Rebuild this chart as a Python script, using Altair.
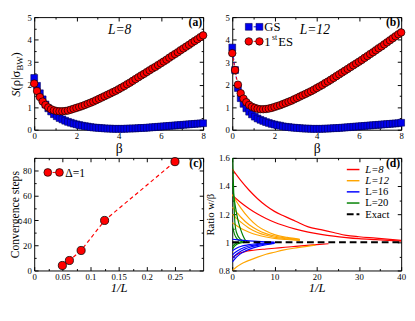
import altair as alt
import pandas as pd

FONT = "Liberation Serif"
W, H = 174, 116

# ---------------- panel (a)/(b) data ----------------
beta = [0.0, 0.133, 0.267, 0.4, 0.533, 0.667, 0.8, 0.933, 1.067, 1.2,
        1.333, 1.467, 1.6, 1.733, 1.867, 2.0, 2.133, 2.267, 2.4, 2.533,
        2.667, 2.8, 2.933, 3.067, 3.2, 3.333, 3.467, 3.6, 3.733, 3.867,
        4.0, 4.133, 4.267, 4.4, 4.533, 4.667, 4.8, 4.933, 5.067, 5.2,
        5.333, 5.467, 5.6, 5.733, 5.867, 6.0, 6.133, 6.267, 6.4, 6.533,
        6.667, 6.8, 6.933, 7.067, 7.2, 7.333, 7.467, 7.6, 7.733, 7.867, 8.0]

es_L8 = [2.05, 1.72, 1.45, 1.25, 1.10, 0.99, 0.91, 0.86, 0.83, 0.82,
         0.82, 0.83, 0.85, 0.89, 0.93, 0.97, 1.01, 1.05, 1.10, 1.15,
         1.20, 1.25, 1.31, 1.37, 1.43, 1.49, 1.55, 1.61, 1.67, 1.73,
         1.80, 1.87, 1.94, 2.02, 2.09, 2.17, 2.25, 2.33, 2.41, 2.48,
         2.56, 2.64, 2.72, 2.79, 2.87, 2.95, 3.03, 3.11, 3.20, 3.28,
         3.36, 3.44, 3.53, 3.61, 3.69, 3.77, 3.86, 3.94, 4.02, 4.11, 4.19]
gs_L8 = [2.30, 1.95, 1.62, 1.35, 1.12, 0.95, 0.81, 0.69, 0.60, 0.52,
         0.46, 0.40, 0.35, 0.31, 0.27, 0.24, 0.21, 0.18, 0.16, 0.14,
         0.12, 0.10, 0.09, 0.08, 0.07, 0.06, 0.05, 0.05, 0.04, 0.04,
         0.04, 0.04, 0.04, 0.05, 0.05, 0.06, 0.06, 0.07, 0.08, 0.08,
         0.09, 0.10, 0.11, 0.12, 0.13, 0.14, 0.15, 0.16, 0.17, 0.18,
         0.19, 0.20, 0.21, 0.22, 0.23, 0.24, 0.25, 0.26, 0.27, 0.28, 0.29]
es_L12 = [3.40, 2.65, 2.00, 1.62, 1.38, 1.22, 1.10, 1.02, 0.97, 0.93,
          0.91, 0.91, 0.92, 0.94, 0.97, 1.01, 1.05, 1.09, 1.14, 1.19,
          1.24, 1.29, 1.35, 1.41, 1.47, 1.53, 1.59, 1.65, 1.71, 1.78,
          1.85, 1.92, 1.99, 2.07, 2.14, 2.22, 2.30, 2.38, 2.46, 2.54,
          2.62, 2.70, 2.78, 2.86, 2.94, 3.02, 3.10, 3.19, 3.27, 3.36,
          3.44, 3.53, 3.62, 3.70, 3.79, 3.88, 3.97, 4.06, 4.15, 4.24, 4.32]
gs_L12 = [3.65, 2.65, 1.85, 1.40, 1.15, 0.95, 0.80, 0.68, 0.58, 0.50,
          0.44, 0.39, 0.34, 0.30, 0.26, 0.23, 0.20, 0.18, 0.15, 0.13,
          0.12, 0.10, 0.09, 0.08, 0.07, 0.06, 0.05, 0.05, 0.04, 0.04,
          0.04, 0.04, 0.04, 0.05, 0.05, 0.06, 0.07, 0.07, 0.08, 0.09,
          0.10, 0.11, 0.12, 0.13, 0.14, 0.15, 0.16, 0.17, 0.18, 0.19,
          0.20, 0.21, 0.22, 0.23, 0.24, 0.25, 0.26, 0.27, 0.28, 0.29, 0.31]

# ---------------- panel (c) data ----------------
inv_L = [0.05, 0.0625, 0.0833, 0.125, 0.25]
conv_steps = [4, 8, 16, 40, 87]

# ---------------- panel (d) data ----------------
red_1_x = [0, 2, 4, 6, 8, 10, 12, 15, 18, 21, 24, 27, 30, 34, 40]
red_1_y = [1.52, 1.44, 1.37, 1.31, 1.26, 1.22, 1.19, 1.15, 1.11, 1.09, 1.07, 1.05, 1.04, 1.03, 1.014]
red_2_x = [0, 2, 4, 6, 8, 10, 12, 15, 18, 21, 24, 27, 30, 34, 40]
red_2_y = [1.335, 1.283, 1.239, 1.201, 1.170, 1.143, 1.121, 1.094, 1.073, 1.057, 1.044, 1.034, 1.026, 1.019, 1.009]
red_3_x = [0, 1, 2, 3, 5, 8, 11, 14, 17, 20, 22.8]
red_3_y = [0.89, 0.912, 0.925, 0.934, 0.944, 0.953, 0.961, 0.969, 0.977, 0.984, 0.99]

orange_x = [0, 1, 2, 4, 6, 8, 10, 13, 16]
orange_1_y = [1.34, 1.29, 1.245, 1.17, 1.115, 1.08, 1.055, 1.035, 1.022]
orange_2_y = [1.25, 1.215, 1.18, 1.125, 1.088, 1.062, 1.045, 1.03, 1.02]
orange_3_y = [1.20, 1.17, 1.145, 1.10, 1.07, 1.05, 1.036, 1.025, 1.017]
orange_4_y = [1.14, 1.12, 1.10, 1.072, 1.052, 1.038, 1.028, 1.02, 1.014]
orange_5_x = [0, 1, 2, 4, 6, 8, 10, 12, 15.5, 19.7]
orange_5_y = [0.80, 0.825, 0.845, 0.872, 0.895, 0.915, 0.93, 0.945, 0.962, 0.98]

blue_0_x = [0, 2, 4, 6, 8, 10]
blue_0_y = [1.022, 1.016, 1.011, 1.007, 1.004, 1.002]
blue_x = [0, 1, 2, 3, 4, 6, 8, 10]
blue_1_y = [0.86, 0.895, 0.92, 0.937, 0.95, 0.97, 0.983, 0.992]
blue_2_y = [0.885, 0.915, 0.937, 0.952, 0.963, 0.978, 0.988, 0.995]
blue_3_y = [0.91, 0.935, 0.953, 0.965, 0.974, 0.985, 0.992, 0.997]
blue_4_y = [0.94, 0.958, 0.97, 0.978, 0.984, 0.991, 0.996, 0.998]

green_1_x = [0, 0.2, 0.4, 0.6, 1, 2, 3]
green_1_y = [1.70, 1.50, 1.30, 1.15, 1.07, 1.02, 1.005]
green_2_x = [0, 0.5, 1, 1.5, 2, 2.5, 3, 3.5]
green_2_y = [1.42, 1.30, 1.21, 1.14, 1.09, 1.05, 1.02, 1.005]
green_3_x = [0, 0.5, 1, 2, 3]
green_3_y = [1.12, 1.06, 1.03, 1.008, 1.0]
green_4_x = [0, 0.5, 1, 2, 3]
green_4_y = [0.95, 0.972, 0.985, 0.996, 1.0]
green_5_x = [0, 0.5, 1, 2]
green_5_y = [0.97, 0.985, 0.993, 0.999]

exact_x = [0, 40]
exact_y = [1, 1]

ONE = pd.DataFrame({"k": [0]})


def sc(dom):
    return alt.Scale(domain=dom, nice=False, zero=False)


def frame_axes(xdom, ydom, xmaj, xmin, ymaj, ymin, xtitle, ytitle, xfmt, yfmt,
               xtitle_style="normal", xtitle_size=13, ytitle_size=12, ytitle_pad=1,
               xlab_vals=None):
    dummy = pd.DataFrame({"x": [xdom[0]], "y": [ydom[0]]})
    specs = [("bottom", "left", xlab_vals or xmaj, ymaj, True, "-4"),
             ("top", "right", xmaj, ymaj, False, "-4"),
             ("bottom", "left", xmin, ymin, False, "-2"),
             ("top", "right", xmin, ymin, False, "-2")]
    layers = []
    for xo, yo, xv, yv, lab, ts in specs:
        common = dict(labels=lab, tickSize=alt.ExprRef(expr=ts), labelFont=FONT,
                      labelFontSize=9, titleFont=FONT, tickColor="black")
        xa = dict(orient=xo, values=xv, **common)
        ya = dict(orient=yo, values=yv, **common)
        if lab:
            xa.update(format=xfmt, labelPadding=6, title=xtitle, titleFontStyle=xtitle_style,
                      titleFontSize=xtitle_size, titlePadding=1)
            ya.update(format=yfmt, labelPadding=7)
            if ytitle is not None:
                ya.update(title=ytitle, titleFontSize=ytitle_size, titlePadding=ytitle_pad)
            else:
                ya.update(title=None)
        else:
            xa.update(title=None)
            ya.update(title=None)
        layers.append(
            alt.Chart(dummy).mark_point(opacity=0).encode(
                x=alt.X("x:Q", scale=sc(xdom), axis=alt.Axis(**xa)),
                y=alt.Y("y:Q", scale=sc(ydom), axis=alt.Axis(**ya)),
            )
        )
    return layers


def txt(s, x, y, size=12, style="normal", weight="normal", align="left",
        angle=0, baseline="middle"):
    return alt.Chart(ONE).mark_text(
        text=s, font=FONT, fontSize=size, fontStyle=style, fontWeight=weight,
        align=align, baseline=baseline, angle=angle, color="black"
    ).encode(x=alt.value(x), y=alt.value(y))


def lg_rule(x1, x2, y, color, dash, width=1.0):
    return alt.Chart(ONE).mark_rule(color=color, strokeDash=dash, strokeWidth=width).encode(
        x=alt.value(x1), x2=alt.value(x2), y=alt.value(y))


def lg_square(x, y):
    return alt.Chart(ONE).mark_square(size=49, color="#0000ee", stroke="#00005a",
                                      strokeWidth=0.6, opacity=1).encode(
        x=alt.value(x), y=alt.value(y))


def lg_circle(x, y, size=60):
    return alt.Chart(ONE).mark_circle(size=size, color="#ff0000", stroke="black",
                                      strokeWidth=0.7, opacity=1).encode(
        x=alt.value(x), y=alt.value(y))


def beta_panel(gs, es):
    df = pd.DataFrame({"beta": beta, "gs": gs, "es": es})
    sx, sy = sc([0, 8]), sc([0, 5])
    x = alt.X("beta:Q", scale=sx, axis=None)
    gl = alt.Chart(df).mark_line(color="#0000ee", strokeDash=[3, 2], strokeWidth=1).encode(
        x=x, y=alt.Y("gs:Q", scale=sy, axis=None))
    gp = alt.Chart(df).mark_square(size=49, color="#0000ee", stroke="#00005a",
                                   strokeWidth=0.6, opacity=1).encode(
        x=x, y=alt.Y("gs:Q", scale=sy, axis=None))
    el = alt.Chart(df).mark_line(color="#ff0000", strokeDash=[3, 2], strokeWidth=1).encode(
        x=x, y=alt.Y("es:Q", scale=sy, axis=None))
    ep = alt.Chart(df).mark_circle(size=60, color="#ff0000", stroke="black",
                                   strokeWidth=0.7, opacity=1).encode(
        x=x, y=alt.Y("es:Q", scale=sy, axis=None))
    return [gl, gp, el, ep]


# ---------------- panel (a) ----------------
ax_a = frame_axes([0, 8], [0, 5], [0, 2, 4, 6, 8], [1, 3, 5, 7],
                  [0, 1, 2, 3, 4, 5], [0.5, 1.5, 2.5, 3.5, 4.5],
                  "β", None, "d", "d", xtitle_size=14)
ytitle_a = [
    txt("S", -15, 82, size=13, style="italic", angle=270, baseline="alphabetic"),
    txt("(ρ|σ", -15, 75.5, size=13, angle=270, baseline="alphabetic"),
    txt("BW", -12, 55, size=9, angle=270, baseline="alphabetic"),
    txt(")", -15, 40.5, size=13, angle=270, baseline="alphabetic"),
]
panel_a = alt.layer(
    *ax_a, *beta_panel(gs_L8, es_L8), *ytitle_a,
    txt("L=8", 88, 13, size=14, style="italic", align="center"),
    txt("(a)", 173, 5, size=12, weight="bold", align="right"),
).resolve_axis(x="independent", y="independent").properties(width=W, height=H)

# ---------------- panel (b) ----------------
ax_b = frame_axes([0, 8], [0, 5], [0, 2, 4, 6, 8], [1, 3, 5, 7],
                  [0, 1, 2, 3, 4, 5], [0.5, 1.5, 2.5, 3.5, 4.5],
                  "β", None, "d", "d", xtitle_size=14)
legend_b = [
    lg_rule(17, 28, 10, "#0000ee", [3, 2]), lg_square(17, 10), lg_square(28, 10),
    txt("GS", 33, 10, size=13),
    lg_rule(17, 28, 25, "#ff0000", [3, 2]), lg_circle(17, 25), lg_circle(28, 25),
    txt("1", 33, 26, size=13), txt("st", 41, 21.5, size=8), txt("ES", 47.5, 26, size=13),
]
panel_b = alt.layer(
    *ax_b, *beta_panel(gs_L12, es_L12), *legend_b,
    txt("L=12", 85, 13, size=14, style="italic", align="center"),
    txt("(b)", 173, 5, size=12, weight="bold", align="right"),
).resolve_axis(x="independent", y="independent").properties(width=W, height=H)

# ---------------- panel (c) ----------------
ax_c = frame_axes([0, 0.3], [0, 90], [0, 0.05, 0.1, 0.15, 0.2, 0.25, 0.3],
                  [0.025, 0.075, 0.125, 0.175, 0.225, 0.275],
                  [0, 20, 40, 60, 80], [10, 30, 50, 70, 90],
                  "1/L", "Convergence steps", "~g", "d",
                  xtitle_style="italic", xtitle_size=13, ytitle_size=12, ytitle_pad=1,
                  xlab_vals=[0, 0.05, 0.1, 0.15, 0.2, 0.25])
df_c = pd.DataFrame({"invL": inv_L, "steps": conv_steps})
xc = alt.X("invL:Q", scale=sc([0, 0.3]), axis=None)
yc = alt.Y("steps:Q", scale=sc([0, 90]), axis=None)
c_line = alt.Chart(df_c).mark_line(color="#ff0000", strokeDash=[4, 3], strokeWidth=1.2).encode(x=xc, y=yc)
c_pts = alt.Chart(df_c).mark_circle(size=70, color="#ff0000", stroke="black",
                                    strokeWidth=0.8, opacity=1).encode(x=xc, y=yc)
legend_c = [lg_rule(14, 26, 15, "#ff0000", [3, 2]), lg_circle(14, 15, 64), lg_circle(26, 15, 64),
            txt("Δ=1", 32, 15.5, size=12)]
panel_c = alt.layer(
    *ax_c, c_line, c_pts, *legend_c,
    txt("(c)", 173, 5, size=12, weight="bold", align="right"),
).resolve_axis(x="independent", y="independent").properties(width=W, height=H)

# ---------------- panel (d) ----------------
ax_d = frame_axes([0, 40], [0.8, 1.6], [0, 10, 20, 30, 40], [5, 15, 25, 35],
                  [0.8, 1.0, 1.2, 1.4, 1.6], [0.9, 1.1, 1.3, 1.5],
                  "1/L", "Ratio w/β", "d", "~g",
                  xtitle_style="italic", xtitle_size=13, ytitle_size=11, ytitle_pad=3)

curves = [
    ("L8", "r1", red_1_x, red_1_y), ("L8", "r2", red_2_x, red_2_y), ("L8", "r3", red_3_x, red_3_y),
    ("L12", "o1", orange_x, orange_1_y), ("L12", "o2", orange_x, orange_2_y),
    ("L12", "o3", orange_x, orange_3_y), ("L12", "o4", orange_x, orange_4_y),
    ("L12", "o5", orange_5_x, orange_5_y),
    ("L20", "g1", green_1_x, green_1_y), ("L20", "g2", green_2_x, green_2_y),
    ("L20", "g3", green_3_x, green_3_y), ("L20", "g4", green_4_x, green_4_y),
    ("L20", "g5", green_5_x, green_5_y),
    ("L16", "b0", blue_0_x, blue_0_y), ("L16", "b1", blue_x, blue_1_y),
    ("L16", "b2", blue_x, blue_2_y), ("L16", "b3", blue_x, blue_3_y),
    ("L16", "b4", blue_x, blue_4_y),
]
rows = []
for fam, cid, xs, ys in curves:
    for xv, yv in zip(xs, ys):
        rows.append({"fam": fam, "cid": cid, "x": xv, "y": yv})
df_d = pd.DataFrame(rows)
fam_colors = {"L8": "#ff0000", "L12": "#ffa500", "L20": "#008000", "L16": "#0000ff"}
xd = alt.X("x:Q", scale=sc([0, 40]), axis=None)
yd = alt.Y("y:Q", scale=sc([0.8, 1.6]), axis=None)
d_lines = []
for fam in ["L8", "L12", "L20", "L16"]:
    d_lines.append(
        alt.Chart(df_d).transform_filter(alt.datum.fam == fam)
        .mark_line(color=fam_colors[fam], strokeWidth=1.2, interpolate="monotone", clip=True)
        .encode(x=xd, y=yd, detail="cid:N")
    )
df_exact = pd.DataFrame({"x": exact_x, "y": exact_y})
d_exact = alt.Chart(df_exact).mark_line(color="black", strokeDash=[7, 4], strokeWidth=2).encode(x=xd, y=yd)

legend_d = []
labels_d = [("L=8", "#ff0000", "italic"), ("L=12", "#ffa500", "italic"),
            ("L=16", "#0000ff", "normal"), ("L=20", "#008000", "normal"),
            ("Exact", "black", "normal")]
for i, (lab, col, sty) in enumerate(labels_d):
    yy = 12 + 11.5 * i
    if lab == "Exact":
        legend_d.append(lg_rule(118, 131, yy, col, [7, 3], 2))
    else:
        legend_d.append(alt.Chart(ONE).mark_rule(color=col, strokeWidth=1.5).encode(
            x=alt.value(118), x2=alt.value(131), y=alt.value(yy)))
    legend_d.append(txt(lab, 137, yy + 0.5, size=11, style=sty))

panel_d = alt.layer(
    *ax_d, *d_lines, d_exact, *legend_d,
    txt("(d)", 173, 5, size=12, weight="bold", align="right"),
).resolve_axis(x="independent", y="independent").properties(width=W, height=H)

chart = alt.concat(
    panel_a, panel_b, panel_c, panel_d, columns=2,
    spacing={"row": 29, "column": 30}, bounds="flush",
).properties(
    padding={"left": 0, "top": 0, "right": 0, "bottom": 0}
).configure_view(
    stroke="black", strokeWidth=1
).configure_axis(
    labelFont=FONT, labelFontSize=9, titleFont=FONT, titleFontWeight="normal",
    labelColor="black", titleColor="black", tickColor="black", tickWidth=1,
    grid=False, domain=False, minExtent=0, labelFlush=False, labelOverlap=False,
)

chart.save("out.html", embed_options={"renderer": "svg", "actions": False})
